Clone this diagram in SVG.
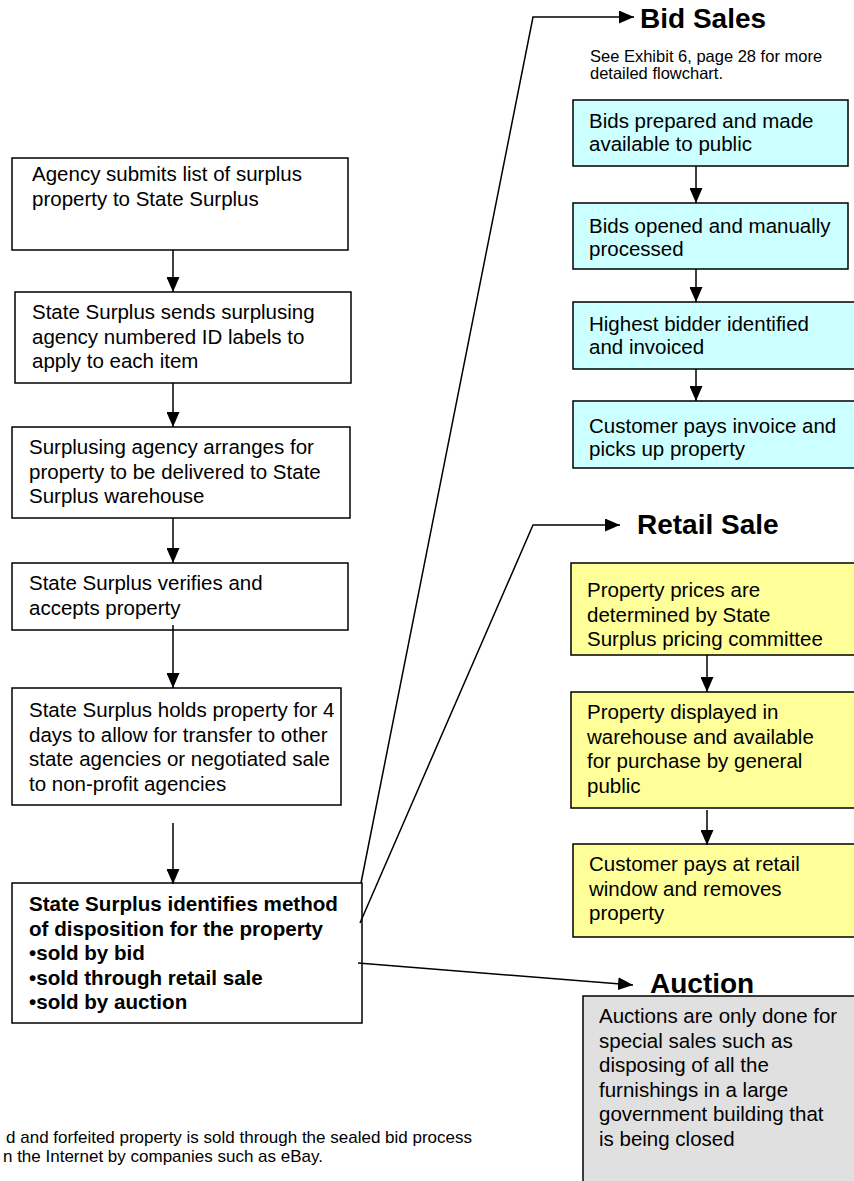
<svg xmlns="http://www.w3.org/2000/svg" width="854" height="1181" viewBox="0 0 854 1181">
<style>
text{font-family:"Liberation Sans",Arial,sans-serif;fill:#000}
.t{font-size:20.5px}
.b{font-size:20.6px;font-weight:bold}
.h{font-size:28px;font-weight:bold}
.s{font-size:16.5px}
.box{stroke:#000;stroke-width:1.5}
.w{fill:#fff}
.c{fill:#ccffff}
.y{fill:#ffff99}
.g{fill:#e0e0e0}
.ln{fill:none;stroke:#000;stroke-width:1.5}
</style>
<defs>
<marker id="ah" viewBox="0 0 15 13" refX="15" refY="6.5" markerWidth="15" markerHeight="13" markerUnits="userSpaceOnUse" orient="auto">
<path d="M0,0 L15,6.5 L0,13 z" fill="#000"/>
</marker>
</defs>
<rect width="854" height="1181" fill="#fff"/>

<g id="n1"><rect class="box w" x="12" y="158" width="336" height="92"/>
<text class="t" x="32" y="181">Agency submits list of surplus</text>
<text class="t" x="32" y="205.5">property to State Surplus</text></g>

<g id="n2"><rect class="box w" x="15" y="292" width="336" height="91"/>
<text class="t" x="32" y="319">State Surplus sends surplusing</text>
<text class="t" x="32" y="343.5">agency numbered ID labels to</text>
<text class="t" x="32" y="368">apply to each item</text></g>

<g id="n3"><rect class="box w" x="12" y="427" width="338" height="91"/>
<text class="t" x="29" y="454">Surplusing agency arranges for</text>
<text class="t" x="29" y="478.5">property to be delivered to State</text>
<text class="t" x="29" y="503">Surplus warehouse</text></g>

<g id="n4"><rect class="box w" x="12" y="563" width="336" height="67"/>
<text class="t" x="29" y="590">State Surplus verifies and</text>
<text class="t" x="29" y="614.5">accepts property</text></g>

<g id="n5"><rect class="box w" x="12" y="688" width="329" height="117"/>
<text class="t" x="29" y="717">State Surplus holds property for 4</text>
<text class="t" x="29" y="741.5">days to allow for transfer to other</text>
<text class="t" x="29" y="766">state agencies or negotiated sale</text>
<text class="t" x="29" y="790.5">to non-profit agencies</text></g>

<g id="n6"><rect class="box w" x="12" y="883" width="350" height="140"/>
<text class="b" x="29" y="911">State Surplus identifies method</text>
<text class="b" x="29" y="935.5">of disposition for the property</text>
<text class="b" x="29" y="960">•sold by bid</text>
<text class="b" x="29" y="984.5">•sold through retail sale</text>
<text class="b" x="29" y="1009">•sold by auction</text></g>

<g id="bidsales"><text class="h" x="640" y="28">Bid Sales</text>
<text class="s" x="590" y="62">See Exhibit 6, page 28 for more</text>
<text class="s" x="590" y="79">detailed flowchart.</text></g>

<g id="b1"><rect class="box c" x="573" y="100" width="275" height="66"/>
<text class="t" x="589" y="128">Bids prepared and made</text>
<text class="t" x="589" y="151">available to public</text></g>

<g id="b2"><rect class="box c" x="573" y="203" width="275" height="66"/>
<text class="t" x="589" y="233">Bids opened and manually</text>
<text class="t" x="589" y="256">processed</text></g>

<g id="b3"><rect class="box c" x="573" y="302" width="282" height="67"/>
<text class="t" x="589" y="331">Highest bidder identified</text>
<text class="t" x="589" y="354">and invoiced</text></g>

<g id="b4"><rect class="box c" x="573" y="401" width="282" height="67"/>
<text class="t" x="589" y="433">Customer pays invoice and</text>
<text class="t" x="589" y="456">picks up property</text></g>

<g id="retail"><text class="h" x="637" y="534">Retail Sale</text></g>

<g id="r1"><rect class="box y" x="571" y="563" width="284" height="92"/>
<text class="t" x="587" y="597">Property prices are</text>
<text class="t" x="587" y="621.5">determined by State</text>
<text class="t" x="587" y="646">Surplus pricing committee</text></g>

<g id="r2"><rect class="box y" x="571" y="692" width="284" height="116"/>
<text class="t" x="587" y="719">Property displayed in</text>
<text class="t" x="587" y="743.5">warehouse and available</text>
<text class="t" x="587" y="768">for purchase by general</text>
<text class="t" x="587" y="792.5">public</text></g>

<g id="r3"><rect class="box y" x="573" y="844" width="282" height="93"/>
<text class="t" x="589" y="871">Customer pays at retail</text>
<text class="t" x="589" y="895.5">window and removes</text>
<text class="t" x="589" y="920">property</text></g>

<g id="auction"><text class="h" x="650" y="993">Auction</text></g>

<g id="a1"><rect class="box g" x="583" y="996" width="272" height="190"/>
<text class="t" x="599" y="1023">Auctions are only done for</text>
<text class="t" x="599" y="1047.5">special sales such as</text>
<text class="t" x="599" y="1072">disposing of all the</text>
<text class="t" x="599" y="1096.5">furnishings in a large</text>
<text class="t" x="599" y="1121">government building that</text>
<text class="t" x="599" y="1145.5">is being closed</text></g>

<g id="note"><text font-size="17" text-anchor="end" x="472" y="1143">d and forfeited property is sold through the sealed bid process</text>
<text font-size="17" text-anchor="end" x="323" y="1162">n the Internet by companies such as eBay.</text></g>

<g id="connectors" class="ln" marker-end="url(#ah)">
<line x1="173" y1="250" x2="173" y2="292"/>
<line x1="173" y1="383" x2="173" y2="427"/>
<line x1="173" y1="518" x2="173" y2="563"/>
<line x1="173" y1="625" x2="173" y2="688"/>
<line x1="173" y1="823" x2="173" y2="884"/>
<line x1="696" y1="166" x2="696" y2="203"/>
<line x1="696" y1="269" x2="696" y2="302"/>
<line x1="696" y1="369" x2="696" y2="401"/>
<line x1="707" y1="655" x2="707" y2="692"/>
<line x1="707" y1="810" x2="707" y2="845"/>
<polyline points="361,883 533,17 634,17"/>
<polyline points="360,923 533,525 620,525"/>
<line x1="358" y1="963" x2="633" y2="985"/>
</g>
</svg>
